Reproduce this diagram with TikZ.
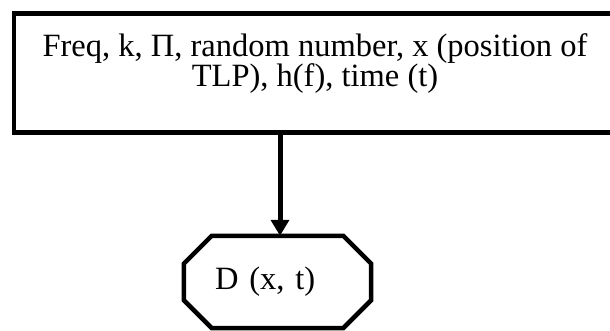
\documentclass[tikz,border=0pt]{standalone}
\usepackage{fontspec}
\setmainfont{Liberation Serif}
\usetikzlibrary{arrows.meta,positioning}

\begin{document}
\begin{tikzpicture}[x=1pt,y=-1pt,>={Triangle[width=18pt,length=16pt]},node distance=101pt]
  \tikzstyle{inbox}=[draw,line width=4.5pt,minimum width=598pt,minimum height=119pt]
  \tikzstyle{bigtext}=[align=center,font=\fontsize{32.5}{30}\selectfont]
  \tikzstyle{outbox}=[text width=125pt,align=left,inner xsep=31pt,inner ysep=0pt,minimum height=92pt,font=\fontsize{32.5}{30}\selectfont]
  \useasboundingbox (0,0) rectangle (610,331);
  \node[inbox] (vars) at (313,73) {};
  \node[bigtext] (varstext) at ([xshift=2pt,yshift=9pt]vars.center) {Freq, k, Π, random number, x (position of\\TLP), h(f), time (t)};
  \node[outbox,below=101pt of vars.south,anchor=north,xshift=-35.5pt] (disp) {D (x, t)};
  % octagon round the output
  \draw[line width=4.5pt,line join=miter] ([xshift=28pt]disp.north west) -- ([xshift=-28pt]disp.north east)
    -- ([yshift=-28pt]disp.north east) -- ([yshift=28pt]disp.south east)
    -- ([xshift=-28pt]disp.south east) -- ([xshift=28pt]disp.south west)
    -- ([yshift=28pt]disp.south west) -- ([yshift=-28pt]disp.north west) -- cycle;
  \draw[line width=5pt,->] ([xshift=2.5pt]vars.south -| disp.north) -- ([xshift=2.5pt]disp.north);
\end{tikzpicture}
\end{document}
